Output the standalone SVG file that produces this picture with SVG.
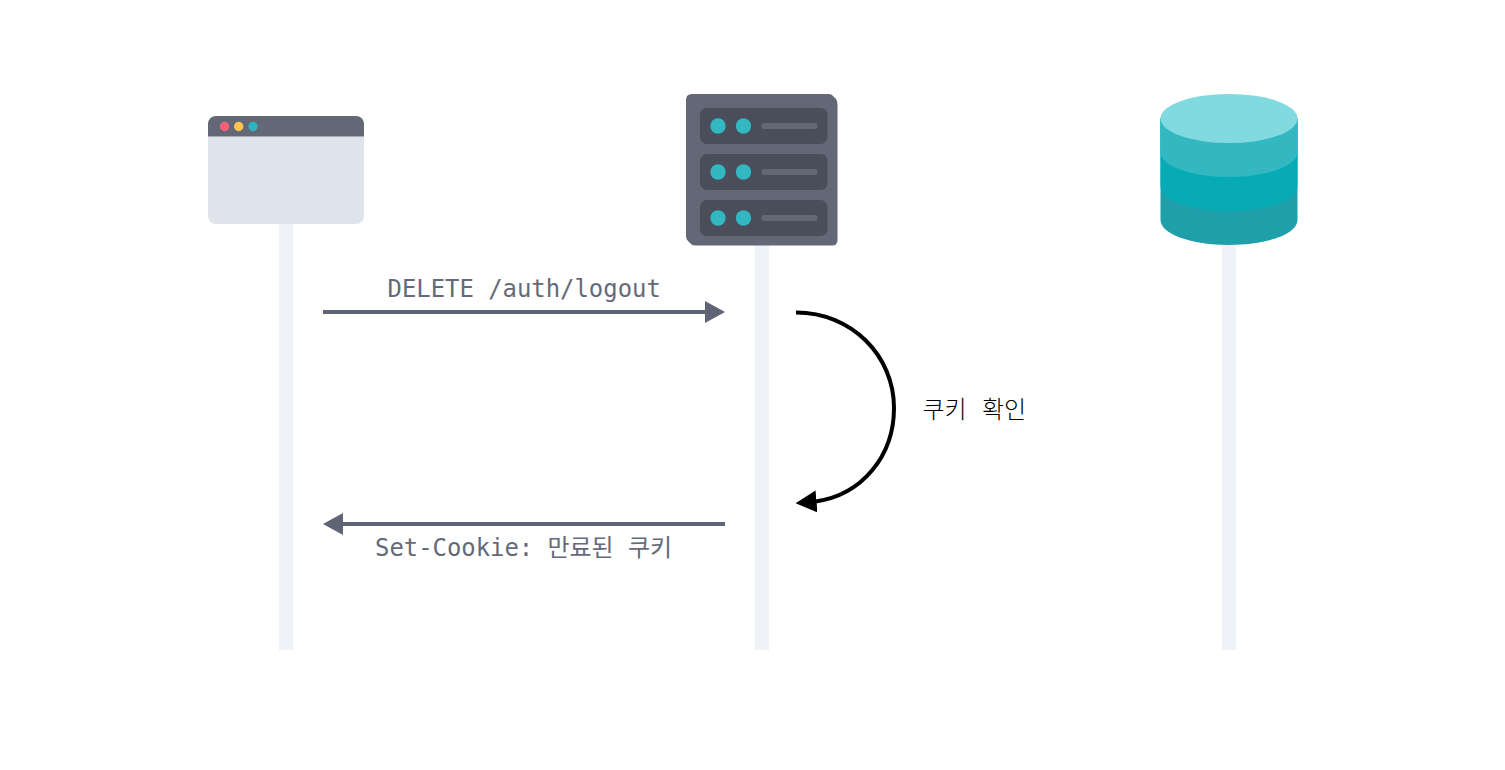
<svg xmlns="http://www.w3.org/2000/svg" width="1505" height="770" viewBox="0 0 1505 770">
<style>
.life{fill:#eff2f7}
.mono{font-family:"DejaVu Sans Mono","Noto Sans CJK KR",monospace;font-size:23.9px;fill:#646a7a}
.kr{font-family:"Noto Sans CJK KR",sans-serif;font-size:24px;font-weight:300;fill:#000;word-spacing:10px}
.slot{fill:#4a4d5a}
.bar{fill:#636776}
.dot{fill:#33b8c2}
.conn{fill:none;stroke-width:4}
</style>
<defs>
<marker id="g" viewBox="0 0 20 22" refX="0" refY="11" markerWidth="20" markerHeight="22" markerUnits="userSpaceOnUse" orient="auto"><path d="M0 0L20 11L0 22Z" fill="#5f6575"/></marker>
<marker id="k" viewBox="0 0 21 22" refX="1" refY="11" markerWidth="21" markerHeight="22" markerUnits="userSpaceOnUse" orient="175"><path d="M0 0L21 11L0 22Z" fill="#000"/></marker>
</defs>
<rect class="life" x="279" y="220" width="14" height="430"/>
<rect class="life" x="755" y="240" width="14" height="410"/>
<rect class="life" x="1222" y="240" width="14" height="410"/>
<g id="browser">
<path d="M208 136.500H364V216a8 8 0 0 1-8 8H216a8 8 0 0 1-8-8Z" fill="#dfe3ec"/>
<path d="M208 136.500V124a8 8 0 0 1 8-8H356a8 8 0 0 1 8 8V136.500Z" fill="#636776"/>
<circle cx="224.500" cy="126.500" r="4.700" fill="#fc5f7a"/>
<circle cx="238.700" cy="126.500" r="4.700" fill="#fdc652"/>
<circle cx="253" cy="126.500" r="4.700" fill="#2db6c1"/>
</g>
<g id="server">
<path d="M692 94H829Q832 94 834 97L836 99Q837.500 101 837.500 104V240Q837.500 245.500 832 245.500H695Q692 245.500 690 243L688 241Q686 239 686 236V100Q686 94 692 94Z" fill="#636776"/>
<rect class="slot" x="700" y="108" width="127.500" height="36" rx="7"/>
<rect class="slot" x="700" y="154" width="127.500" height="36" rx="7"/>
<rect class="slot" x="700" y="200" width="127.500" height="36" rx="7"/>
<circle class="dot" cx="718" cy="126" r="7.700"/><circle class="dot" cx="743.500" cy="126" r="7.700"/><rect class="bar" x="761.500" y="123" width="56" height="6" rx="3"/>
<circle class="dot" cx="718" cy="172" r="7.700"/><circle class="dot" cx="743.500" cy="172" r="7.700"/><rect class="bar" x="761.500" y="169" width="56" height="6" rx="3"/>
<circle class="dot" cx="718" cy="218" r="7.700"/><circle class="dot" cx="743.500" cy="218" r="7.700"/><rect class="bar" x="761.500" y="215" width="56" height="6" rx="3"/>
</g>
<g id="database">
<path d="M1160.500 220V118H1297.500V220C1297.500 234 1267 245 1229 245S1160.500 234 1160.500 220Z" fill="#1e9fa9"/>
<path d="M1160.500 186V118H1297.500V186C1297.500 200 1267 211 1229 211S1160.500 200 1160.500 186Z" fill="#07abb5"/>
<path d="M1160.500 152V118H1297.500V152C1297.500 166 1267 177 1229 177S1160.500 166 1160.500 152Z" fill="#33b8c2"/>
<ellipse cx="1229" cy="118.500" rx="68.500" ry="24.500" fill="#80dadf"/>
</g>
<g id="connectors">
<path class="conn" stroke="#5f6575" d="M323 312H705" marker-end="url(#g)"/>
<path class="conn" stroke="#5f6575" d="M725 524H343" marker-end="url(#g)"/>
<path class="conn" stroke="#000" d="M796 312.500C852 312.500 894 356 894 408C894 456 862 495 815.500 501.500" marker-end="url(#k)"/>
</g>
<text class="mono" x="387.500" y="297">DELETE /auth/logout</text>
<text class="mono" x="375" y="556">Set-Cookie: 만료된 쿠키</text>
<text class="kr" x="922.500" y="418">쿠키 확인</text>
</svg>
